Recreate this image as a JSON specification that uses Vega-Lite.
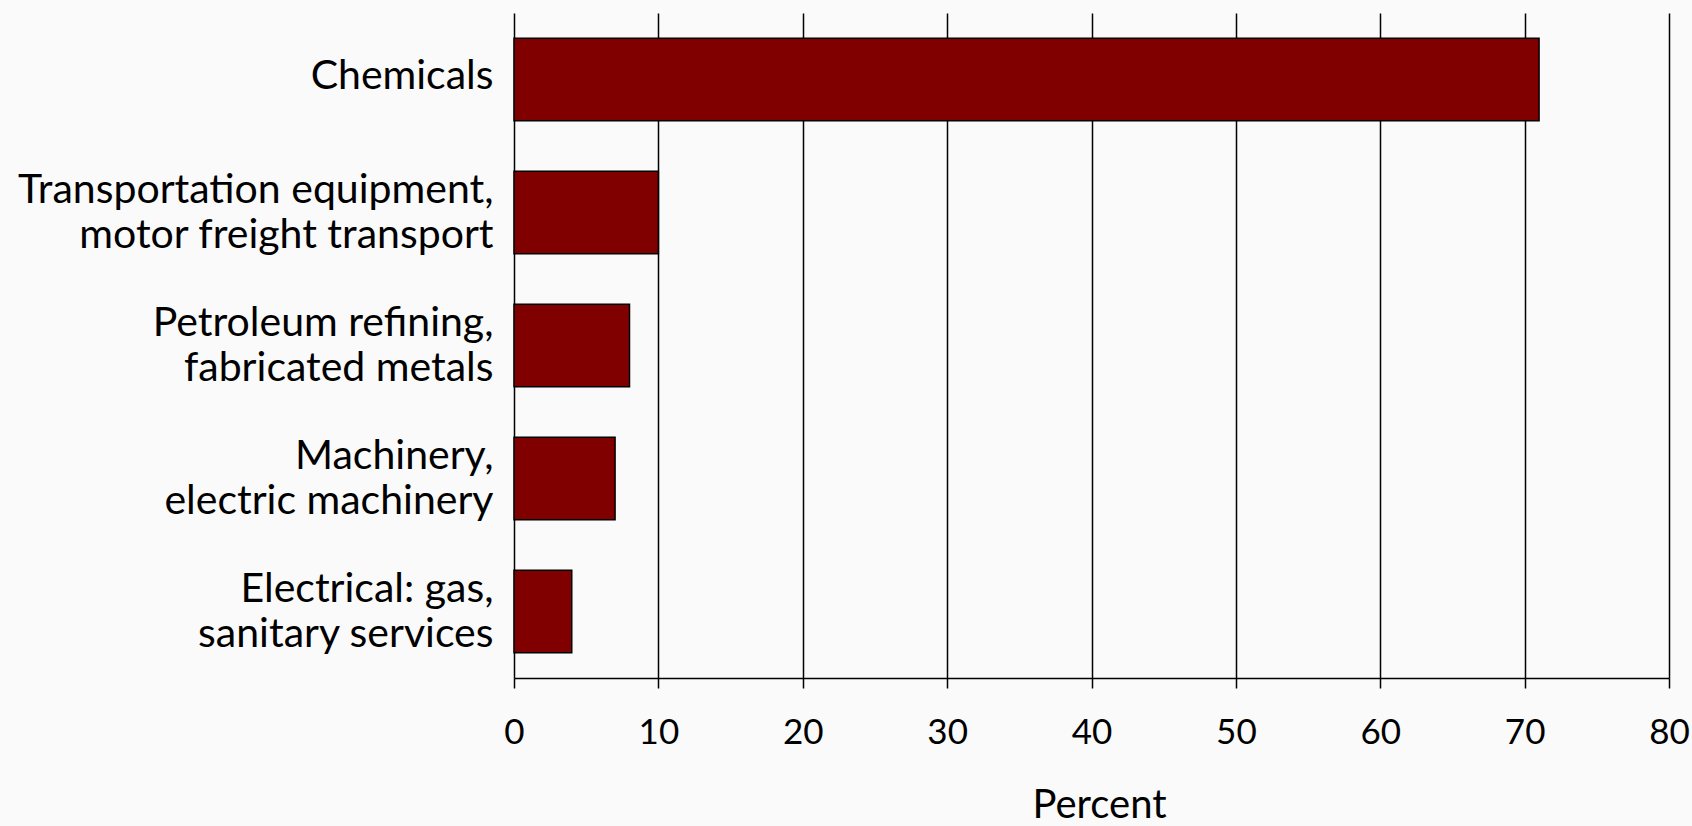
{
  "$schema": "https://vega.github.io/schema/vega-lite/v6.json",
  "autosize": "none",
  "padding": {"left": 514, "top": 13, "right": 23, "bottom": 148},
  "width": 1155,
  "height": 665,
  "background": "#fafafa",
  "config": {"view": {"stroke": null}},
  "data": {
    "values": [
      {"sector": "Chemicals", "percent": 71},
      {"sector": "Transportation equipment,|motor freight transport", "percent": 10},
      {"sector": "Petroleum refining,|fabricated metals", "percent": 8},
      {"sector": "Machinery,|electric machinery", "percent": 7},
      {"sector": "Electrical: gas,|sanitary services", "percent": 4}
    ]
  },
  "mark": {"type": "bar", "color": "#800000", "stroke": "#000000", "strokeWidth": 1.5},
  "encoding": {
    "y": {
      "field": "sector",
      "type": "nominal",
      "sort": null,
      "scale": {"paddingInner": 0.38, "paddingOuter": 0.19},
      "axis": {
        "title": null,
        "domain": false,
        "ticks": false,
        "labelExpr": "split(datum.value, '|')",
        "labelFont": "Lato",
        "labelFontSize": 41,
        "labelLineHeight": 45,
        "labelOffset": {"condition": {"test": "indexof(datum.value, '|') >= 0", "value": -22}, "value": -3},
        "labelColor": "#000000",
        "labelPadding": 21,
        "labelLimit": 600
      }
    },
    "x": {
      "field": "percent",
      "type": "quantitative",
      "scale": {"domain": [0, 80], "nice": false},
      "axis": {
        "title": "Percent",
        "values": [0, 10, 20, 30, 40, 50, 60, 70, 80],
        "grid": true,
        "gridColor": "#000000",
        "gridWidth": 1.5,
        "gridOpacity": 1,
        "domainColor": "#000000",
        "domainWidth": 1.5,
        "tickColor": "#000000",
        "tickWidth": 1.5,
        "tickSize": 10,
        "labelFlush": false,
        "labelOverlap": false,
        "labelFont": "Lato",
        "labelFontSize": 35,
        "labelColor": "#000000",
        "labelPadding": 27,
        "titleFont": "Lato",
        "titleFontSize": 40,
        "titleFontWeight": "normal",
        "titleColor": "#000000",
        "titlePadding": 35,
        "titleX": 585
      }
    }
  }
}
